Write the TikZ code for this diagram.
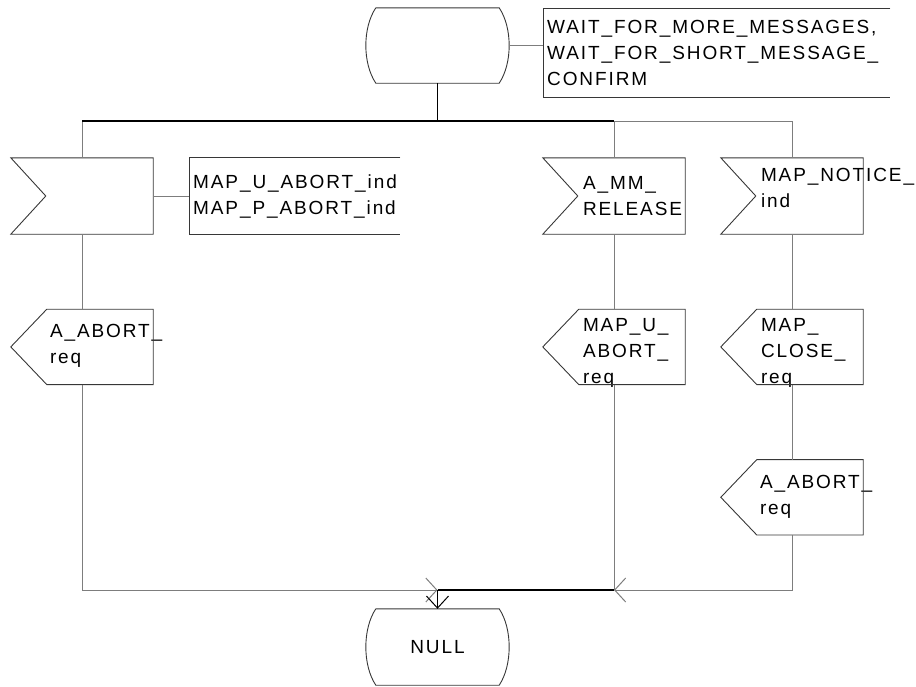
\documentclass[tikz,border=0pt]{standalone}
\usepackage{fontspec}
\setmainfont{Liberation Sans}[LetterSpace=10]
\usepackage{xcolor}
\usepackage{tikz}
\usetikzlibrary{positioning,calc,arrows.meta}
\definecolor{wire}{RGB}{125,125,125}
\definecolor{edge}{RGB}{55,55,55}

\tikzset{
  sym/.style={draw=none, minimum width=142pt, minimum height=76pt, inner sep=0pt},
  outl/.style={draw=edge, line width=0.9pt},
  flow/.style={draw=wire, line width=1pt},
  trunk/.style={draw=black, line width=1.6pt},
  lbl/.style={anchor=north west, inner sep=0pt, align=left},
  note/.style={inner sep=4pt, align=left, minimum height=76pt},
  barb/.style={-{Straight Barb[length=11pt,width=24pt,line width=1pt]}}
}

% outlines drawn round the empty symbol nodes
\newcommand{\stateoutline}[1]{%
  \draw[outl] ($(#1.north west)+(10,0)$) -- ($(#1.north east)+(-10,0)$)
    .. controls ($(#1.north east)+(3.3,20)$) and ($(#1.south east)+(3.3,-20)$) .. ($(#1.south east)+(-10,0)$)
    -- ($(#1.south west)+(10,0)$)
    .. controls ($(#1.south west)+(-3.3,-20)$) and ($(#1.north west)+(-3.3,20)$) .. ($(#1.north west)+(10,0)$);}
\newcommand{\inoutline}[1]{%
  \draw[outl] (#1.north west) -- (#1.north east) -- (#1.south east) -- (#1.south west) -- ($(#1.west)+(35,0)$) -- cycle;}
\newcommand{\outoutline}[1]{%
  \draw[outl] ($(#1.north west)+(36,0)$) -- (#1.north east) -- (#1.south east) -- ($(#1.south west)+(36,0)$) -- (#1.west) -- cycle;}
\newcommand{\noteoutline}[1]{%
  \draw[outl] (#1.north east) -- (#1.north west) -- (#1.south west) -- (#1.south east);}

\begin{document}
\begin{tikzpicture}[x=1pt,y=-1pt,font=\fontsize{19pt}{26pt}\selectfont]
\useasboundingbox (0,0) rectangle (916,686);
% states
\node[sym, minimum width=143pt, minimum height=75pt] (wait) at (437.5,45.5) {};
\node[sym, minimum width=143pt] (null) at (437.5,647) {NULL};
% inputs
\node[sym] (in1) at (82,196) {};
\node[sym] (mm) at (614,196) {};
\node[sym] (notice) at (792,196) {};
% outputs
\node[sym, minimum height=75pt, below=75pt of in1] (ab1) {};
\node[sym, minimum height=75pt, below=75pt of mm] (mu) {};
\node[sym, minimum height=75pt, below=75pt of notice] (close) {};
\node[sym, minimum height=75pt, below=75pt of close] (ab2) {};
% comments
\node[note, text width=339pt, minimum height=89pt, anchor=north west] (wcom) at (543,8)
  {WAIT\_FOR\_MORE\_MESSAGES,\\WAIT\_FOR\_SHORT\_MESSAGE\_\\CONFIRM};
\node[note, text width=203pt, anchor=west] (ucom) at (189,196)
  {MAP\_U\_ABORT\_ind\\MAP\_P\_ABORT\_ind};
% signal names
\node[lbl] (mmtxt) at ($(mm.north west)+(40,18.4)$) {A\_MM\_\\RELEASE};
\node[lbl] (notxt) at ($(notice.north west)+(40,10.4)$) {MAP\_NOTICE\_\\ind};
\node[lbl] (ab1txt) at ($(ab1.north west)+(39,14.4)$) {A\_ABORT\_\\req};
\node[lbl] (mutxt) at ($(mu.north west)+(40,9.4)$) {MAP\_U\_\\ABORT\_\\req};
\node[lbl] (cltxt) at ($(close.north west)+(40,9.4)$) {MAP\_\\CLOSE\_\\req};
\node[lbl] (ab2txt) at ($(ab2.north west)+(39,15.4)$) {A\_ABORT\_\\req};

\stateoutline{wait}
\stateoutline{null}
\foreach \s in {in1,mm,notice}{\inoutline{\s}}
\foreach \s in {ab1,mu,close,ab2}{\outoutline{\s}}
\noteoutline{wcom}
\noteoutline{ucom}

\coordinate (fork) at (437.5,121);
\coordinate (merge) at (437.5,590);
\coordinate (join) at (614,590);

\draw[flow] (wait.east) -- (wait.east -| wcom.west);
\draw[flow] (in1.east) -- (ucom.west);
\draw[flow] (in1.north |- fork) -- (in1.north);
\draw[flow] (mm.north |- fork) -- (mm.north);
\draw[flow] (mm.north |- fork) -- (notice.north |- fork) -- (notice.north);
\draw[trunk] (wait.south) -- (fork);
\draw[trunk] (in1.north |- fork) -- (mm.north |- fork);
\draw[flow] (in1.south) -- (ab1.north);
\draw[flow] (mm.south) -- (mu.north);
\draw[flow] (notice.south) -- (close.north);
\draw[flow] (close.south) -- (ab2.north);
\draw[flow, barb] (ab1.south) |- (merge);
\draw[flow] (mu.south) -- (join);
\draw[flow, barb] (ab2.south) |- (join);
\draw[trunk] (join) -- (merge);
\draw[trunk, -{Straight Barb[length=12pt,width=22pt,line width=1pt]}] (merge) -- (null.north);
\end{tikzpicture}
\end{document}
